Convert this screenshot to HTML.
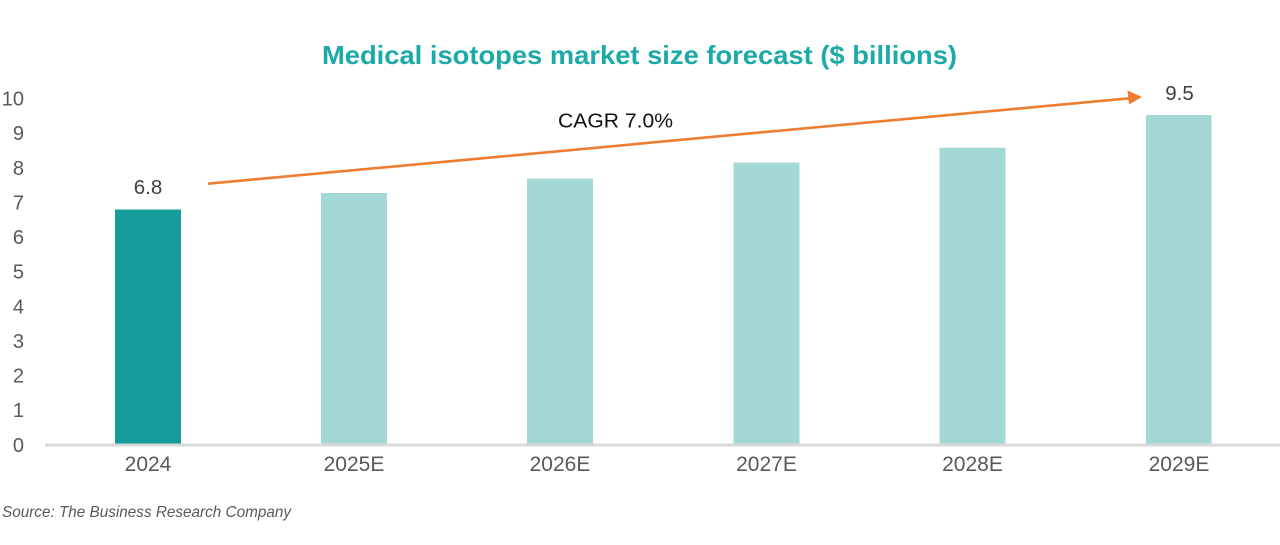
<!DOCTYPE html>
<html>
<head>
<meta charset="utf-8">
<style>
  html,body{margin:0;padding:0;background:#fff;}
  body{width:1280px;height:545px;overflow:hidden;}
  svg{display:block;}
  text{font-family:"Liberation Sans",sans-serif;}
</style>
</head>
<body>
<svg width="1280" height="545" viewBox="0 0 1280 545" xmlns="http://www.w3.org/2000/svg">
  <rect width="1280" height="545" fill="#ffffff"/>

  <!-- Title -->
  <text x="322" y="64" font-size="26" font-weight="bold" fill="#1CAAA8" textLength="635" lengthAdjust="spacingAndGlyphs">Medical isotopes market size forecast ($ billions)</text>

  <!-- Y axis tick labels -->
  <g font-size="20" fill="#595959" text-anchor="end">
    <text x="24" y="105.5">10</text>
    <text x="24" y="140.1">9</text>
    <text x="24" y="174.8">8</text>
    <text x="24" y="209.4">7</text>
    <text x="24" y="244.0">6</text>
    <text x="24" y="278.7">5</text>
    <text x="24" y="313.3">4</text>
    <text x="24" y="347.9">3</text>
    <text x="24" y="382.6">2</text>
    <text x="24" y="417.2">1</text>
    <text x="24" y="451.8">0</text>
  </g>

  <!-- Bars -->
  <rect x="115" y="209.5" width="66" height="234.5" fill="#159B9A"/>
  <rect x="321" y="193" width="66" height="251" fill="#A3D8D7"/>
  <rect x="527" y="178.5" width="66" height="265.5" fill="#A3D8D7"/>
  <rect x="733.5" y="162.5" width="66" height="281.5" fill="#A3D8D7"/>
  <rect x="939.5" y="147.8" width="66" height="296.2" fill="#A3D8D7"/>
  <rect x="1146" y="115" width="65.5" height="329" fill="#A3D8D7"/>

  <!-- Baseline axis -->
  <rect x="45" y="443.5" width="1235" height="3" fill="#D9D9D9"/>

  <!-- X axis labels -->
  <g font-size="21" fill="#595959" text-anchor="middle">
    <text x="148" y="471">2024</text>
    <text x="354" y="471">2025E</text>
    <text x="560" y="471">2026E</text>
    <text x="766.5" y="471">2027E</text>
    <text x="972.5" y="471">2028E</text>
    <text x="1179" y="471">2029E</text>
  </g>

  <!-- Value labels -->
  <g font-size="20.5" fill="#404040" text-anchor="middle">
    <text x="148" y="194">6.8</text>
    <text x="1179.5" y="100">9.5</text>
  </g>

  <!-- CAGR arrow -->
  <line x1="208" y1="183.7" x2="1129" y2="98.3" stroke="#ED7D31" stroke-width="2.6"/>
  <polygon points="1142,97 1127.5,90.5 1129,104.5" fill="#ED7D31"/>
  <text x="558" y="127.3" font-size="20.5" fill="#111111" textLength="115" lengthAdjust="spacingAndGlyphs">CAGR 7.0%</text>

  <!-- Source -->
  <text x="2" y="517" font-size="16" font-style="italic" fill="#595959" textLength="289" lengthAdjust="spacingAndGlyphs">Source: The Business Research Company</text>
</svg>
</body>
</html>
